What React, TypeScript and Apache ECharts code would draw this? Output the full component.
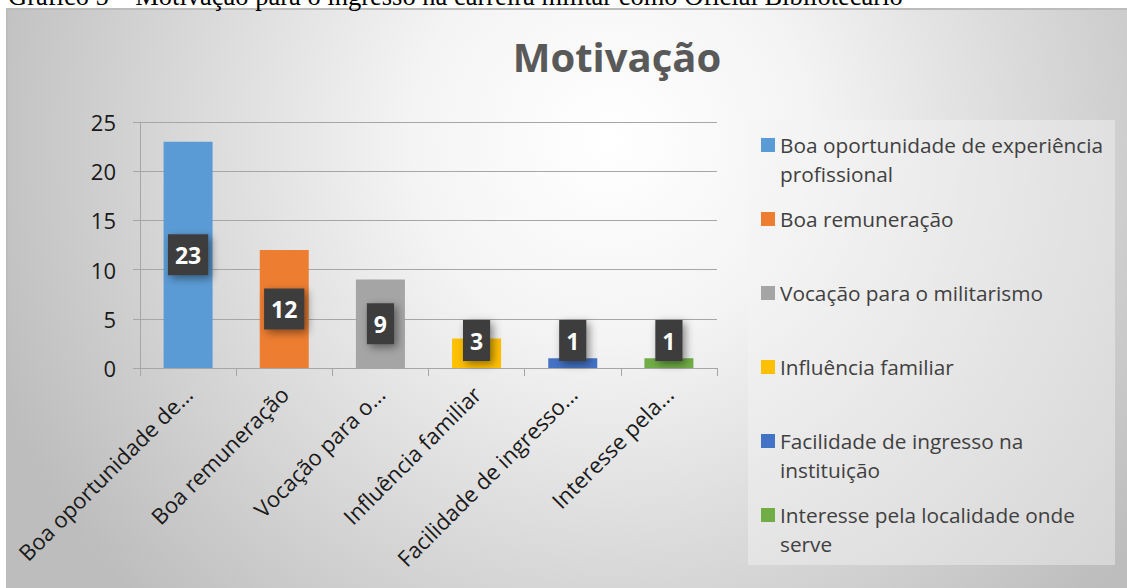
import React, { useEffect, useRef } from "react";
import * as echarts from "echarts";

const categories = [
  "Boa oportunidade de experiência profissional",
  "Boa remuneração",
  "Vocação para o militarismo",
  "Influência familiar",
  "Facilidade de ingresso na instituição",
  "Interesse pela localidade onde serve",
];
const legendLabels = [
  "Boa oportunidade de experiência\nprofissional",
  "Boa remuneração",
  "Vocação para o militarismo",
  "Influência familiar",
  "Facilidade de ingresso na\ninstituição",
  "Interesse pela localidade onde\nserve",
];
const axisLabels = [
  "Boa oportunidade de...",
  "Boa remuneração",
  "Vocação para o...",
  "Influência familiar",
  "Facilidade de ingresso...",
  "Interesse pela...",
];
const values = [23, 12, 9, 3, 1, 1];
const colors = ["#5b9bd5", "#ed7d31", "#a5a5a5", "#ffc000", "#4472c4", "#70ad47"];
const yTicks = [0, 5, 10, 15, 20, 25];

const chartTitle = "Motivação";
const caption = "Gráfico 5 – Motivação para o ingresso na carreira militar como Oficial Bibliotecário";

export default function App() {
  const ref = useRef<HTMLDivElement>(null);

  useEffect(() => {
    if (!ref.current) return;
    const chart = echarts.init(ref.current, undefined, { renderer: "svg" });
    const L = 29;
    const series = categories.map((name, i) => ({
      name,
      type: "bar",
      stack: "total",
      barWidth: 49,
      itemStyle: { color: colors[i] },
      data: categories.map((_, j) =>
        j === i
          ? {
              value: values[i],
              label: values[i] < 6 ? { position: "insideBottom", distance: 7 } : { position: "inside" },
            }
          : "-"
      ),
      label: {
        show: true,
        formatter: "{c}",
        color: "#ffffff",
        fontFamily: "Open Sans",
        fontWeight: "bold",
        fontSize: 23,
        lineHeight: 26,
        backgroundColor: "#3c3c3c",
        padding: [8, 7, 7, 7],
        shadowColor: "rgba(0,0,0,0.45)",
        shadowBlur: 8,
        shadowOffsetX: 3,
        shadowOffsetY: 3,
      },
    }));

    chart.setOption({
      animation: false,
      backgroundColor: "#ffffff",
      graphic: [
        {
          type: "rect",
          z: -10,
          silent: true,
          shape: { x: 7, y: 9, width: 1130, height: 590 },
          style: {
            fill: {
              type: "radial",
              x: 610,
              y: 140,
              r: 660,
              global: true,
              colorStops: [
                { offset: 0, color: "#ffffff" },
                { offset: 0.3, color: "#f4f4f4" },
                { offset: 1, color: "#bdbdbd" },
              ],
            },
            stroke: "#bcbcbc",
            lineWidth: 2,
          },
        },
        {
          type: "rect",
          z: -9,
          silent: true,
          shape: { x: 748, y: 120, width: 367, height: 445 },
          style: { fill: "rgba(245,245,245,0.45)" },
        },
        {
          type: "text",
          x: 8,
          y: 9,
          silent: true,
          style: {
            text: caption,
            font: "26.5px 'Liberation Serif', 'Times New Roman', serif",
            fill: "#000000",
            verticalAlign: "bottom",
          },
        },
      ],
      title: {
        text: chartTitle,
        left: 612,
        top: 31,
        textAlign: "center",
        textStyle: {
          fontFamily: "Open Sans",
          fontWeight: "bold",
          fontSize: 40,
          color: "#595959",
        },
      },
      legend: {
        orient: "vertical",
        left: 761,
        top: 145 - 1.5 * L,
        padding: 0,
        itemWidth: 14,
        itemHeight: 14,
        itemGap: 74 - 3 * L,
        icon: "rect",
        formatter: (name: string) => {
          const t = legendLabels[categories.indexOf(name)];
          return t.includes("\n") ? "\n" + t : t;
        },
        data: categories.map((name, i) => ({
          name,
          textStyle: {
            backgroundColor: "transparent",
            padding: legendLabels[i].includes("\n") ? [0, 0, 0, 0] : [L, 0, L, 0],
          },
        })),
        textStyle: {
          fontFamily: "Open Sans",
          fontSize: 20.8,
          lineHeight: L,
          color: "#404040",
        },
      },
      grid: { left: 140, top: 122, width: 577, height: 246 },
      xAxis: {
        type: "category",
        data: axisLabels,
        axisLine: { show: true, lineStyle: { color: "#a6a6a6", width: 1 } },
        axisTick: { show: true, length: 8, lineStyle: { color: "#a6a6a6" } },
        axisLabel: {
          rotate: 45,
          interval: 0,
          margin: 22,
          fontFamily: "Open Sans",
          fontSize: 22,
          color: "#1a1a1a",
        },
      },
      yAxis: {
        type: "value",
        min: yTicks[0],
        max: yTicks[yTicks.length - 1],
        interval: 5,
        axisLine: { show: true, lineStyle: { color: "#a6a6a6", width: 1 } },
        axisTick: { show: true, length: 7, lineStyle: { color: "#a6a6a6" } },
        splitLine: { show: true, lineStyle: { color: "#a6a6a6", width: 1 } },
        axisLabel: {
          margin: 24,
          fontFamily: "Open Sans",
          fontSize: 22,
          color: "#1a1a1a",
        },
      },
      series,
    });
    return () => chart.dispose();
  }, []);

  return (
    <div
      ref={ref}
      style={{ position: "absolute", left: 0, top: 0, width: 1127, height: 588 }}
    />
  );
}
